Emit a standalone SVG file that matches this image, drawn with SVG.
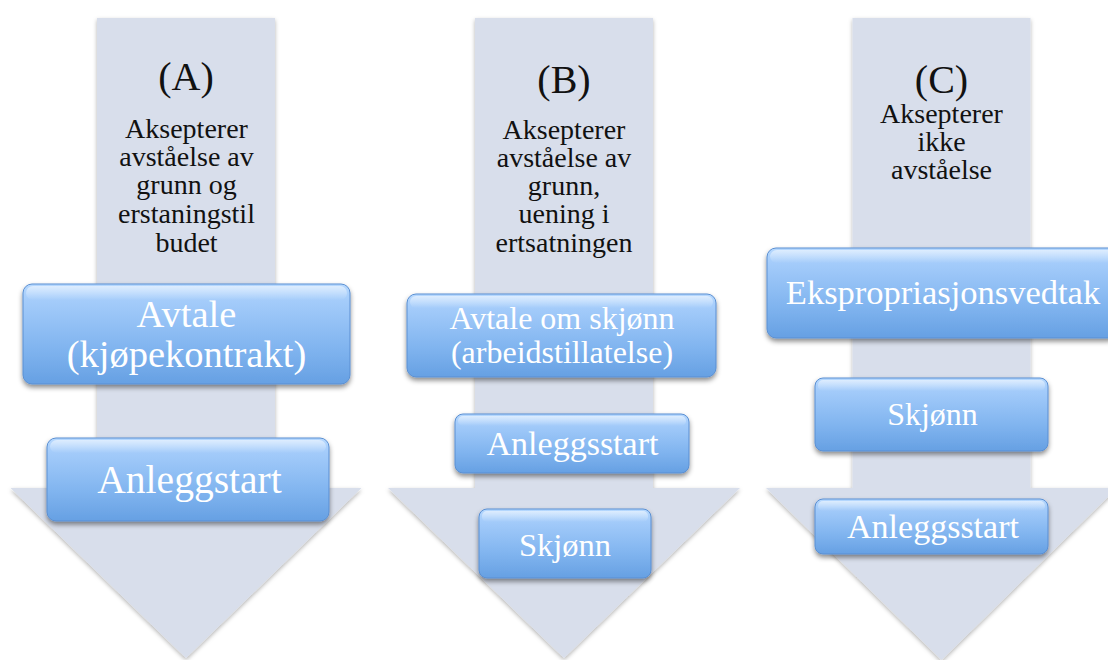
<svg xmlns="http://www.w3.org/2000/svg" width="1108" height="660" viewBox="0 0 1108 660">
  <defs>
    <linearGradient id="boxFill" x1="0" y1="0" x2="0" y2="1">
      <stop offset="0" stop-color="#b6d8fe"/>
      <stop offset="0.18" stop-color="#a3cbfa"/>
      <stop offset="0.65" stop-color="#80b4ef"/>
      <stop offset="1" stop-color="#66a0e3"/>
    </linearGradient>
    <linearGradient id="gloss" x1="0" y1="0" x2="0" y2="1">
      <stop offset="0" stop-color="#ffffff" stop-opacity="0.55"/>
      <stop offset="1" stop-color="#ffffff" stop-opacity="0"/>
    </linearGradient>
    <filter id="arrowShadow" x="-10%" y="-5%" width="120%" height="115%">
      <feDropShadow dx="0" dy="2" stdDeviation="2.2" flood-color="#000" flood-opacity="0.3"/>
    </filter>
    <filter id="boxShadow" x="-10%" y="-20%" width="120%" height="150%">
      <feDropShadow dx="0" dy="3" stdDeviation="2.5" flood-color="#000" flood-opacity="0.45"/>
    </filter>
  </defs>
  <style>
    .arrow { fill: #d8deeb; filter: url(#arrowShadow); }
    .box { fill: url(#boxFill); stroke: #5a8fd2; stroke-width: 1; filter: url(#boxShadow); }
    .gloss { fill: url(#gloss); }
    .label { font-family: "Liberation Serif", "DejaVu Serif", serif; fill: #ffffff; text-anchor: middle; }
    .head { font-family: "Liberation Serif", "DejaVu Serif", serif; fill: #111111; text-anchor: middle; font-size: 28px; }
    .letter { font-size: 40px; }
  </style>

  <!-- Downward arrows (one per alternative) -->
  <g id="arrows">
    <path class="arrow" d="M97 18 H275 V488 H361.5 L186 658 L10.5 488 H97 Z"/>
    <path class="arrow" d="M475 18 H653 V488 H740 L564 658 L388 488 H475 Z"/>
    <path class="arrow" d="M852.5 18 H1030.5 V488 H1117 L941.5 660 L766 488 H852.5 Z"/>
  </g>

  <!-- Column A -->
  <g id="headA">
    <text class="head letter" x="186" y="90">(A)</text>
    <text class="head" x="186.5" y="138">Aksepterer</text>
    <text class="head" x="186.5" y="166">avståelse av</text>
    <text class="head" x="186.5" y="194">grunn og</text>
    <text class="head" x="186.5" y="223">erstaningstil</text>
    <text class="head" x="186.5" y="252">budet</text>
  </g>
  <g id="nodeA1">
    <rect class="box" x="23" y="284" width="327" height="100" rx="9"/>
    <rect class="gloss" x="26" y="286" width="321" height="14" rx="7"/>
    <text class="label" x="186.5" y="327" font-size="38.5">Avtale</text>
    <text class="label" x="186.5" y="367" font-size="38.5">(kjøpekontrakt)</text>
  </g>
  <g id="nodeA2">
    <rect class="box" x="47" y="438" width="282" height="83" rx="9"/>
    <rect class="gloss" x="50" y="440" width="276" height="13" rx="7"/>
    <text class="label" x="189.5" y="493" font-size="39.5">Anleggstart</text>
  </g>

  <!-- Column B -->
  <g id="headB">
    <text class="head letter" x="564" y="93">(B)</text>
    <text class="head" x="564" y="139">Aksepterer</text>
    <text class="head" x="564" y="167">avståelse av</text>
    <text class="head" x="564" y="195">grunn,</text>
    <text class="head" x="564" y="223">uening i</text>
    <text class="head" x="564" y="252">ertsatningen</text>
  </g>
  <g id="nodeB1">
    <rect class="box" x="407" y="294" width="309" height="83" rx="9"/>
    <rect class="gloss" x="410" y="296" width="303" height="12" rx="6"/>
    <text class="label" x="562" y="329" font-size="32">Avtale om skjønn</text>
    <text class="label" x="562" y="363" font-size="32">(arbeidstillatelse)</text>
  </g>
  <g id="nodeB2">
    <rect class="box" x="455" y="414" width="234" height="59" rx="8"/>
    <rect class="gloss" x="458" y="416" width="228" height="10" rx="5"/>
    <text class="label" x="572.5" y="455" font-size="34">Anleggsstart</text>
  </g>
  <g id="nodeB3">
    <rect class="box" x="479" y="509" width="172" height="69" rx="8"/>
    <rect class="gloss" x="482" y="511" width="166" height="11" rx="5"/>
    <text class="label" x="565" y="556" font-size="32.5">Skjønn</text>
  </g>

  <!-- Column C -->
  <g id="headC">
    <text class="head letter" x="941.5" y="93" font-size="37">(C)</text>
    <text class="head" x="941.5" y="123" font-size="25.5">Aksepterer</text>
    <text class="head" x="941.5" y="151" font-size="25.5">ikke</text>
    <text class="head" x="941.5" y="179" font-size="25.5">avståelse</text>
  </g>
  <g id="nodeC1">
    <rect class="box" x="767" y="248" width="350" height="90" rx="9"/>
    <rect class="gloss" x="770" y="250" width="344" height="13" rx="7"/>
    <text class="label" x="943" y="304" font-size="34.5">Ekspropriasjonsvedtak</text>
  </g>
  <g id="nodeC2">
    <rect class="box" x="815" y="378" width="233" height="73" rx="8"/>
    <rect class="gloss" x="818" y="380" width="227" height="11" rx="5"/>
    <text class="label" x="932.5" y="425" font-size="32">Skjønn</text>
  </g>
  <g id="nodeC3">
    <rect class="box" x="815" y="499" width="233" height="55" rx="8"/>
    <rect class="gloss" x="818" y="501" width="227" height="10" rx="5"/>
    <text class="label" x="933" y="538" font-size="34">Anleggsstart</text>
  </g>
</svg>
